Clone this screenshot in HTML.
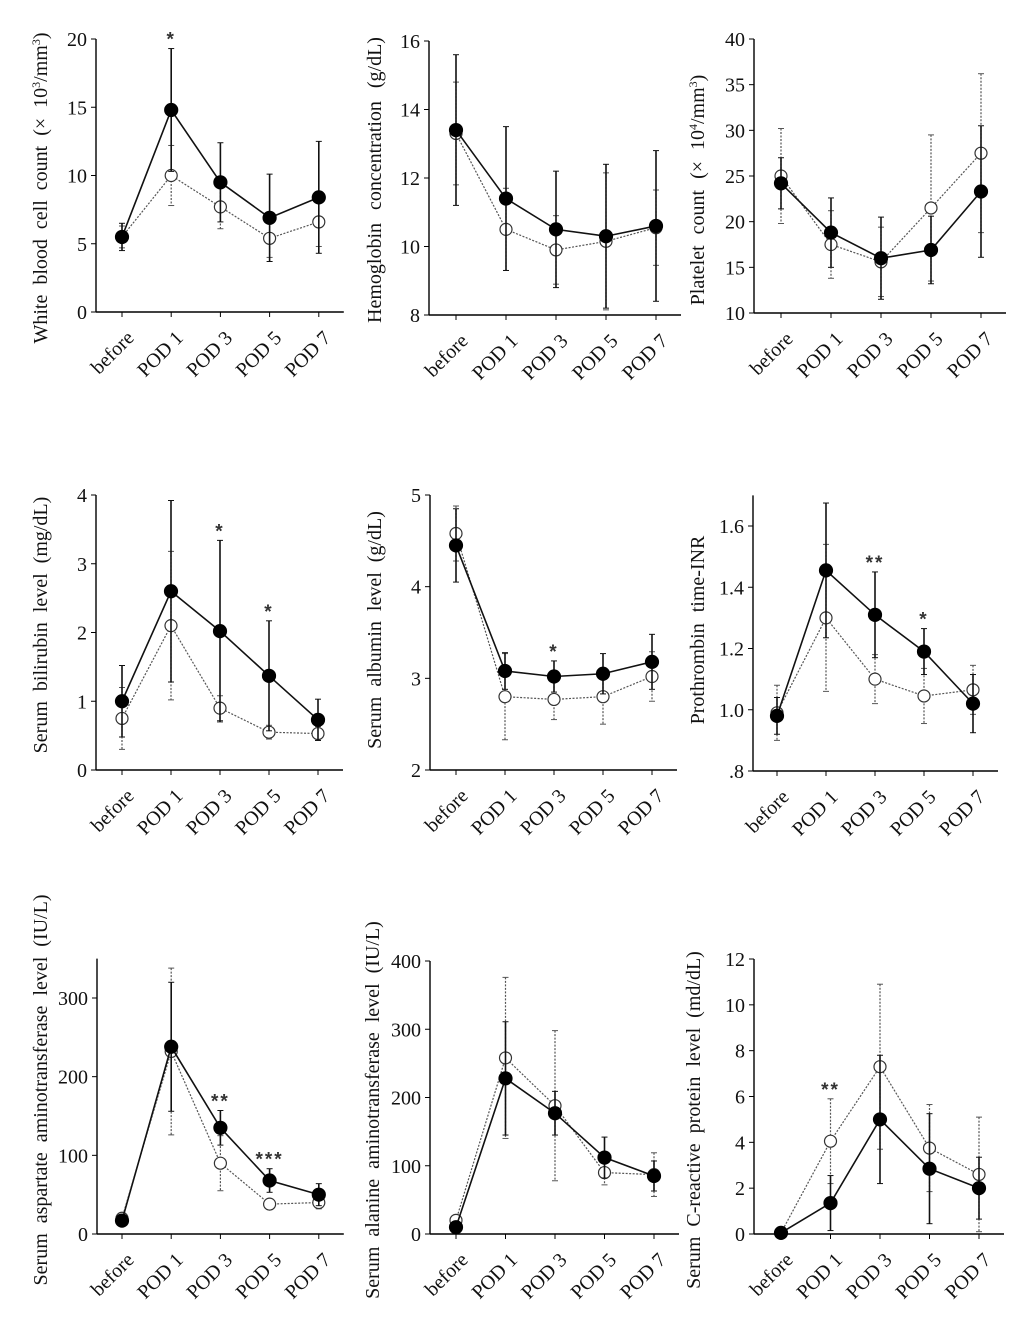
<!DOCTYPE html>
<html><head><meta charset="utf-8"><style>
html,body{margin:0;padding:0;background:#fff;}
svg{display:block;font-family:"Liberation Serif",serif;}
</style></head><body>
<svg id="fig" width="1024" height="1324" viewBox="0 0 1024 1324" xmlns="http://www.w3.org/2000/svg"></svg>
<script>
const categories = ["before","POD 1","POD 3","POD 5","POD 7"];

const wbcFilled = [5.5,14.8,9.5,6.9,8.4];
const wbcFilledSd = [1.0,4.5,2.9,3.2,4.1];
const wbcOpen = [5.5,10.0,7.7,5.4,6.6];
const wbcOpenSd = [0.8,2.2,1.6,1.4,1.8];

const hbFilled = [13.4,11.4,10.5,10.3,10.6];
const hbFilledSd = [2.2,2.1,1.7,2.1,2.2];
const hbOpen = [13.3,10.5,9.9,10.15,10.55];
const hbOpenSd = [1.5,1.2,1.0,2.0,1.1];

const pltFilled = [24.2,18.8,16.0,16.9,23.3];
const pltFilledSd = [2.8,3.8,4.5,3.7,7.2];
const pltOpen = [25.0,17.5,15.6,21.5,27.5];
const pltOpenSd = [5.2,3.7,3.8,8.0,8.7];

const bilFilled = [1.0,2.6,2.02,1.37,0.73];
const bilFilledSd = [0.52,1.32,1.32,0.8,0.3];
const bilOpen = [0.75,2.1,0.9,0.55,0.53];
const bilOpenSd = [0.45,1.08,0.18,0.1,0.1];

const albFilled = [4.45,3.08,3.02,3.05,3.18];
const albFilledSd = [0.4,0.2,0.17,0.22,0.3];
const albOpen = [4.58,2.8,2.77,2.8,3.02];
const albOpenSd = [0.3,0.47,0.22,0.3,0.27];

const inrFilled = [0.98,1.455,1.31,1.19,1.02];
const inrFilledSd = [0.06,0.22,0.14,0.075,0.095];
const inrOpen = [0.99,1.30,1.10,1.045,1.065];
const inrOpenSd = [0.09,0.24,0.08,0.09,0.08];

const astFilled = [17,238,135,68,50];
const astFilledSd = [5,82,22,15,14];
const astOpen = [20,232,90,38,40];
const astOpenSd = [5,106,35,5,8];

const altFilled = [10,228,177,112,85];
const altFilledSd = [8,83,32,30,22];
const altOpen = [20,258,188,90,87];
const altOpenSd = [8,118,110,18,32];

const crpFilled = [0.05,1.35,5.0,2.85,2.0];
const crpFilledSd = [0.05,1.2,2.8,2.4,1.35];
const crpOpen = [0.05,4.05,7.3,3.75,2.6];
const crpOpenSd = [0.05,1.85,3.6,1.9,2.5];

const panels = [
 {name:"wbc", ax:96, x0:122, step:49.2, yMinPx:312, yMaxPx:39, min:0, max:20, top:20, ticks:[0,5,10,15,20], tl:["0","5","10","15","20"], f:wbcFilled, fs:wbcFilledSd, o:wbcOpen, os:wbcOpenSd, stars:[[1,"*"]], lx:40, cy:188, ws:5, label:'White blood cell count (\u00d7 10<tspan baseline-shift="super" font-size="12">3</tspan>/mm<tspan baseline-shift="super" font-size="12">3</tspan>)'},
 {name:"hemoglobin", ax:429, x0:456, step:50, yMinPx:315, yMaxPx:41, min:8, max:16, top:16, ticks:[8,10,12,14,16], tl:["8","10","12","14","16"], f:hbFilled, fs:hbFilledSd, o:hbOpen, os:hbOpenSd, stars:[], lx:374, cy:180, ws:8, label:'Hemoglobin concentration (g/dL)'},
 {name:"platelet", ax:754, x0:781, step:50, yMinPx:313, yMaxPx:39, min:10, max:40, top:40, ticks:[10,15,20,25,30,35,40], tl:["10","15","20","25","30","35","40"], f:pltFilled, fs:pltFilledSd, o:pltOpen, os:pltOpenSd, stars:[], lx:697, cy:190, ws:6, label:'Platelet count (\u00d7 10<tspan baseline-shift="super" font-size="12">4</tspan>/mm<tspan baseline-shift="super" font-size="12">3</tspan>)'},
 {name:"bilirubin", ax:96, x0:122, step:49, yMinPx:770, yMaxPx:495, min:0, max:4, top:4, ticks:[0,1,2,3,4], tl:["0","1","2","3","4"], f:bilFilled, fs:bilFilledSd, o:bilOpen, os:bilOpenSd, stars:[[2,"*"],[3,"*"]], lx:40, cy:625, ws:5, label:'Serum bilirubin level (mg/dL)'},
 {name:"albumin", ax:430, x0:456, step:49, yMinPx:770, yMaxPx:495, min:2, max:5, top:5, ticks:[2,3,4,5], tl:["2","3","4","5"], f:albFilled, fs:albFilledSd, o:albOpen, os:albOpenSd, stars:[[2,"*"]], lx:374, cy:630, ws:5, label:'Serum albumin level (g/dL)'},
 {name:"inr", ax:753, x0:777, step:49, yMinPx:771, yMaxPx:526, min:0.8, max:1.6, top:1.7, ticks:[0.8,1.0,1.2,1.4,1.6], tl:[".8","1.0","1.2","1.4","1.6"], f:inrFilled, fs:inrFilledSd, o:inrOpen, os:inrOpenSd, stars:[[2,"**"],[3,"*"]], lx:697, cy:630, ws:6, label:'Prothrombin time-INR'},
 {name:"ast", ax:97, x0:122, step:49.2, yMinPx:1234, yMaxPx:998, min:0, max:300, top:350, ticks:[0,100,200,300], tl:["0","100","200","300"], f:astFilled, fs:astFilledSd, o:astOpen, os:astOpenSd, stars:[[2,"**"],[3,"***"]], lx:40, cy:1090, ws:5, label:'Serum aspartate aminotransferase level (IU/L)'},
 {name:"alt", ax:430, x0:456, step:49.5, yMinPx:1234, yMaxPx:961, min:0, max:400, top:400, ticks:[0,100,200,300,400], tl:["0","100","200","300","400"], f:altFilled, fs:altFilledSd, o:altOpen, os:altOpenSd, stars:[], lx:372, cy:1110, ws:5, label:'Serum alanine aminotransferase level (IU/L)'},
 {name:"crp", ax:754, x0:781, step:49.5, yMinPx:1234, yMaxPx:959, min:0, max:12, top:12, ticks:[0,2,4,6,8,10,12], tl:["0","2","4","6","8","10","12"], f:crpFilled, fs:crpFilledSd, o:crpOpen, os:crpOpenSd, stars:[[1,"**"]], lx:693, cy:1120, ws:5, label:'Serum C-reactive protein level (md/dL)'}
];

const svg = document.getElementById('fig');
const NS = "http://www.w3.org/2000/svg";
function mk(tag, attrs, parent){
  const e = document.createElementNS(NS, tag);
  for (const k in attrs) e.setAttribute(k, attrs[k]);
  parent.appendChild(e);
  return e;
}

panels.forEach(p => {
  const g = mk('g', {}, svg);
  
  
  const ys = v => p.yMinPx + (v - p.min) * (p.yMaxPx - p.yMinPx) / (p.max - p.min);
  const xs = i => p.x0 + i * p.step;
  const xEnd = xs(4) + 25;
  const ya = mk('line', {x1:p.ax, y1:ys(p.top), x2:p.ax, y2:p.yMinPx, stroke:'#000', 'stroke-width':1.4}, g);
  
  
  const xa = mk('line', {x1:p.ax, y1:p.yMinPx, x2:xEnd, y2:p.yMinPx, stroke:'#000', 'stroke-width':1.4}, g);
  
  
  p.ticks.forEach((t, i) => {
    const y = ys(t);
    mk('line', {x1:p.ax-5, y1:y, x2:p.ax, y2:y, stroke:'#000', 'stroke-width':1}, g);
    const tx = mk('text', {x:p.ax-9, y:y+7, 'text-anchor':'end', 'font-size':20, fill:'#111'}, g);
    tx.textContent = p.tl[i];
    
    
  });
  categories.forEach((c, i) => {
    const x = xs(i);
    mk('line', {x1:x, y1:p.yMinPx, x2:x, y2:p.yMinPx+5, stroke:'#000', 'stroke-width':1}, g);
    const tx = mk('text', {x:0, y:0, 'text-anchor':'end', 'font-size':20, fill:'#111', transform:`translate(${x+13},${p.yMinPx+27}) rotate(-45)`}, g);
    tx.textContent = c;
    
    
  });
  const lab = mk('text', {x:0, y:0, 'text-anchor':'middle', 'font-size':20, 'word-spacing':p.ws, fill:'#111', transform:`translate(${p.lx+7},${p.cy}) rotate(-90)`}, g);
  lab.innerHTML = p.label;
  
  
  const drawSeries = (vals, sds, filled) => {
    const sg = mk('g', {}, g);
    
    
    const col = filled ? '#111' : '#555';
    const dash = filled ? 'none' : '2,1.5';
    vals.forEach((v, i) => {
      const x = xs(i);
      const eb = mk('line', {x1:x, y1:ys(v+sds[i]), x2:x, y2:ys(v-sds[i]), stroke:col, 'stroke-width':filled?1.6:1.2, 'stroke-dasharray':dash}, sg);
      
      
      mk('line', {x1:x-3, y1:ys(v+sds[i]), x2:x+3, y2:ys(v+sds[i]), stroke:col, 'stroke-width':1}, sg);
      mk('line', {x1:x-3, y1:ys(v-sds[i]), x2:x+3, y2:ys(v-sds[i]), stroke:col, 'stroke-width':1}, sg);
    });
    const pts = vals.map((v, i) => xs(i) + ',' + ys(v)).join(' ');
    const pl = mk('polyline', {points:pts, fill:'none', stroke:col, 'stroke-width':filled?1.6:1.2, 'stroke-dasharray':dash}, sg);
    
    
    vals.forEach((v, i) => {
      const c = mk('circle', {cx:xs(i), cy:ys(v), r:filled?6.5:6, fill:filled?'#000':'#fff', stroke:filled?'#000':'#333', 'stroke-width':1.2}, sg);
      
      
    });
  };
  drawSeries(p.o, p.os, false);
  drawSeries(p.f, p.fs, true);
  p.stars.forEach(s => {
    const i = s[0];
    const top = Math.max(p.f[i] + p.fs[i], p.o[i] + p.os[i]);
    const st = mk('text', {x:xs(i), y:ys(top) - 3, 'text-anchor':'middle', 'font-size':19, 'font-weight':'bold', 'letter-spacing':2, fill:'#333', 'font-family':'"Liberation Sans",sans-serif'}, g);
    st.textContent = s[1];
    
    
  });
});
</script>
</body></html>
